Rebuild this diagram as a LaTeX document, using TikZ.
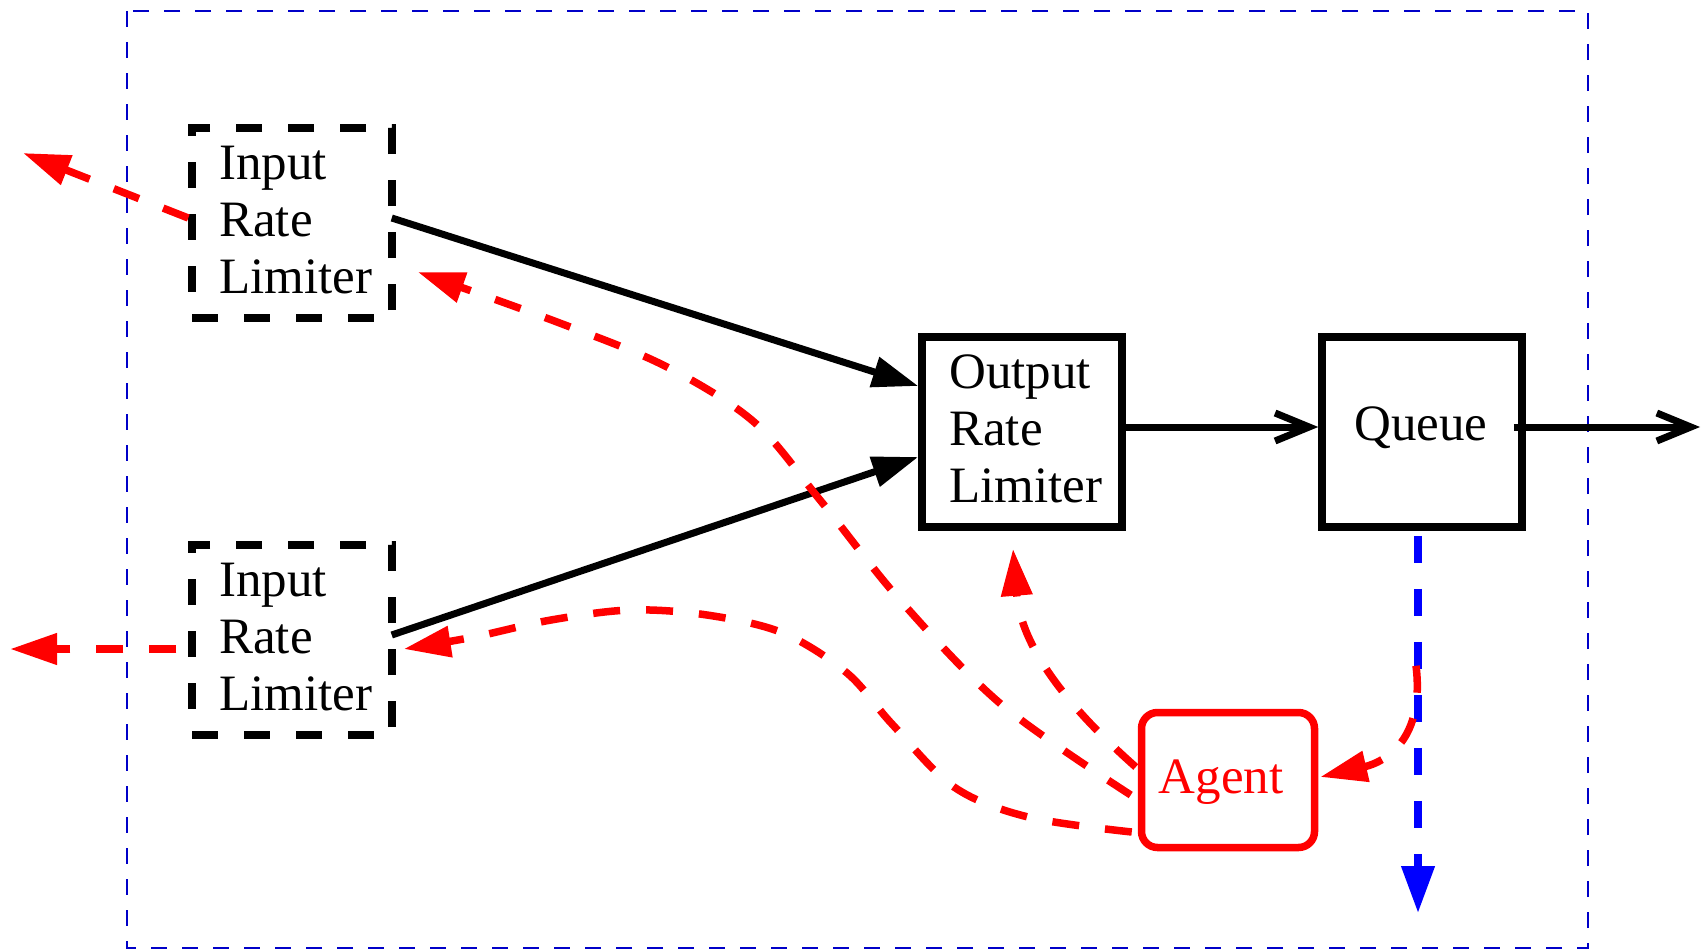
\documentclass[tikz,border=0pt]{standalone}
\usepackage{fontspec}
\setmainfont{Liberation Serif}
\usetikzlibrary{arrows.meta,calc}
\definecolor{bordblue}{RGB}{0,0,200}
\begin{document}
\begin{tikzpicture}[x=1pt,y=-1pt,
  dbox/.style={rectangle, draw=black, line width=7.5pt, dash pattern=on 26pt off 26pt, minimum width=200pt, minimum height=190pt, inner sep=0pt},
  sbox/.style={rectangle, draw=black, line width=7.5pt, minimum width=200pt, minimum height=190pt, inner sep=0pt},
  agentbox/.style={rectangle, draw=red, line width=7.5pt, rounded corners=16pt, minimum width=173pt, minimum height=135pt, inner sep=0pt},
  lbl/.style={font=\fontsize{51}{57}\selectfont, inner sep=0pt, align=left},
  flow/.style={line width=7pt, -{Triangle[length=46pt,width=30pt]}},
  openflow/.style={line width=7pt, -{Straight Barb[length=34pt,width=28pt]}},
  ctrl/.style={red, line width=7.5pt, dash pattern=on 27pt off 26pt, -{Triangle[length=47pt,width=30pt]}},
]
\useasboundingbox (0,0) rectangle (1704,950);
\draw[bordblue, line width=2pt, dash pattern=on 16pt off 15pt] (127,11) rectangle (1588,948);

% boxes
\node[dbox] (in1) at (292,223) {};
\node[dbox] (in2) at (292,640) {};
\node[sbox] (orl) at (1022,432) {};
\node[sbox] (queue) at (1422,432) {};
\node[agentbox] (agent) at (1228,780) {};

% texts
\node[lbl, anchor=north west] (in1t) at (219,146) {Input\\Rate\\Limiter};
\node[lbl, anchor=north west] (in2t) at (219,563) {Input\\Rate\\Limiter};
\node[lbl, anchor=north west] (orlt) at (949,355) {Output\\Rate\\Limiter};
\node[lbl, anchor=base] (queuet) at (1421,440) {Queue};
\node[lbl, anchor=base, text=red] (agentt) at (1221,793) {Agent};

% data flow
\draw[flow] ($(in1.east)+(-4,-5)$) -- ($(orl.west)+(0,-46)$);
\draw[flow] ($(in2.east)+(-4,-5)$) -- ($(orl.west)+(0,25)$);
\draw[openflow] ($(orl.east)+(-4,-5)$) -- ($(queue.west)+(0,-5)$);
\coordinate (outR) at (1700,427);
\draw[openflow] ($(queue.east)+(-12,-5)$) -- (outR);

% drop
\coordinate (qdown) at (1418,913);
\draw[blue, line width=7.5pt, dash pattern=on 27pt off 26pt, -{Triangle[length=47pt,width=32pt]}] ($(queue.south)+(-4,5)$) -- (qdown);

% feedback to outside
\coordinate (fb1) at (23,153);
\draw[ctrl] ($(in1.west)+(0,-5)$) -- (fb1);
\coordinate (fb2) at (10,649);
\draw[ctrl] ($(in2.west)+(-12,9)$) -- (fb2);

% agent control
\coordinate (aC) at ($(agent.west)+(-2,-13)$);
\coordinate (aA) at ($(agent.west)+(-7,15)$);
\coordinate (aB) at ($(agent.west)+(-6,52)$);
\coordinate (tipA) at ($(in1.east)+(22,49)$);
\coordinate (tipB) at ($(in2.east)+(8,9)$);
\coordinate (qA) at ($(queue.south)+(-6,135)$);

\draw[ctrl] (aC) .. controls (1093,729) and (1022,660) .. ($(orl.south)+(-9,18)$);
\draw[ctrl] plot[smooth, tension=0.55] coordinates {(aA) (1002,705) (900,600) (820,500) (754,422) (665,366) (557,322) (tipA)};
\draw[ctrl] plot[smooth, tension=0.55] coordinates {(aB) (1028,817) (954,787) (892,724) (847,673) (783,633) (707,615) (630,610) (551,620) (474,637) (tipB)};
\draw[ctrl] (qA) .. controls (1425,740) and (1385,762) .. ($(agent.east)+(2,-3)$);
\end{tikzpicture}
\end{document}
